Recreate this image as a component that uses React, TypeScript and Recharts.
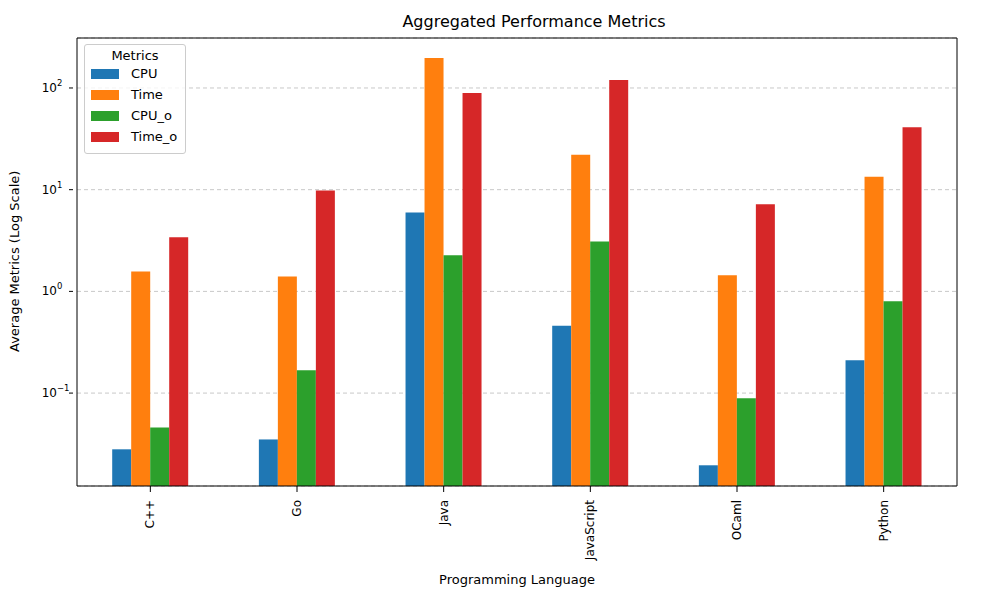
import React from 'react';
import { BarChart, Bar, XAxis, YAxis, CartesianGrid } from 'recharts';

const languages = ['C++', 'Go', 'Java', 'JavaScript', 'OCaml', 'Python'];
const cpu = [0.028, 0.035, 5.95, 0.46, 0.0195, 0.21];
const time = [1.57, 1.4, 197, 22, 1.44, 13.4];
const cpuO = [0.046, 0.168, 2.26, 3.1, 0.089, 0.8];
const timeO = [3.4, 9.8, 89, 120, 7.2, 41];
const yTicks = [0.1, 1, 10, 100];
const exps: Record<number, string> = { 0.1: '−1', 1: '0', 10: '1', 100: '2' };

const data = languages.map((l, i) => ({ lang: l, CPU: cpu[i], Time: time[i], CPU_o: cpuO[i], Time_o: timeO[i] }));
const series = [
  { key: 'CPU', color: '#1f77b4' },
  { key: 'Time', color: '#ff7f0e' },
  { key: 'CPU_o', color: '#2ca02c' },
  { key: 'Time_o', color: '#d62728' },
];
const font = 'DejaVu Sans';

const YTick = (p: any) => {
  const { x, y, payload } = p;
  return (
    <g>
      <line x1={x} x2={x + 4} y1={y} y2={y} stroke="#000" />
      <text x={x - 12} y={y + 4} textAnchor="end" fontSize={12} fontFamily={font} fill="#000">10</text>
      <text x={x - 12} y={y - 2} textAnchor="start" fontSize={8.5} fontFamily={font} fill="#000">{exps[payload.value]}</text>
    </g>
  );
};
const XTick = (p: any) => {
  const { x, y, payload } = p;
  return (
    <text x={0} y={0} transform={`translate(${x + 4},${y + 6}) rotate(-90)`} textAnchor="end" fontSize={12} fontFamily={font} fill="#000">{payload.value}</text>
  );
};

export default function App() {
  return (
    <div style={{ position: 'absolute', left: 0, top: 0, width: 1000, height: 600, background: '#fff', fontFamily: font }}>
      <div style={{ position: 'absolute', top: 12, width: 1000, left: 34, textAlign: 'center', fontSize: 16 }}>Aggregated Performance Metrics</div>
      <BarChart width={1000} height={600} data={data} margin={{ top: 38, right: 43, left: 0, bottom: 0 }} barCategoryGap="24%" barGap={0}>
        <CartesianGrid vertical={false} stroke="#c8c8c8" strokeDasharray="4 3" />
        <XAxis dataKey="lang" height={114} tick={<XTick />} tickLine={{ stroke: '#000' }} axisLine={{ stroke: '#000' }} interval={0}
          label={{ value: 'Programming Language', position: 'insideBottom', offset: 16, fontSize: 13, fill: '#000', fontFamily: font }} />
        <YAxis scale="log" domain={[0.0122, 310]} allowDataOverflow ticks={yTicks} width={77} tick={<YTick />} tickLine={false} axisLine={{ stroke: '#000' }}
          label={{ value: 'Average Metrics (Log Scale)', angle: -90, position: 'insideLeft', offset: 14, dy: 90, fontSize: 13, fill: '#000', fontFamily: font }} />
        <XAxis xAxisId="top" orientation="top" dataKey="lang" hide />
        {series.map(s => <Bar key={s.key} dataKey={s.key} fill={s.color} isAnimationActive={false} />)}
        <line x1={957} x2={957} y1={38} y2={486} stroke="#000" />
        <line x1={77} x2={957} y1={38} y2={38} stroke="#000" />
      </BarChart>
      <div style={{ position: 'absolute', left: 84, top: 44, width: 100, height: 108, border: '1px solid #ccc', borderRadius: 3, background: 'rgba(255,255,255,0.8)', fontSize: 13 }}>
        <div style={{ textAlign: 'center', marginTop: 3 }}>Metrics</div>
        {series.map(s => (
          <div key={s.key} style={{ display: 'flex', alignItems: 'center', height: 21 }}>
            <span style={{ display: 'inline-block', width: 28, height: 10, background: s.color, marginLeft: 6, marginRight: 12 }} />
            {s.key}
          </div>
        ))}
      </div>
    </div>
  );
}
